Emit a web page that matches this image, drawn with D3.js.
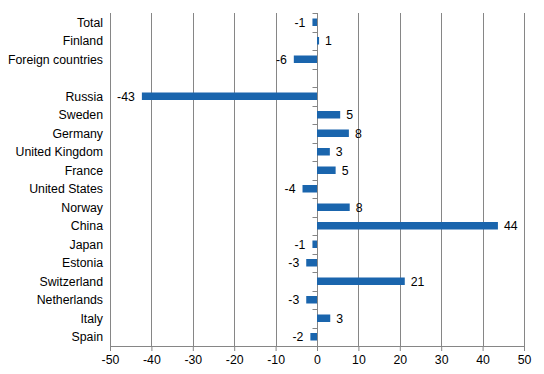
<!DOCTYPE html>
<html>
<head>
<meta charset="utf-8">
<script src="https://cdn.jsdelivr.net/npm/d3@7"></script>
<style>
  body { margin: 0; background: #fff; }
  text { font-family: "Liberation Sans", Arial, sans-serif; font-size: 12.3px; fill: #000; }
</style>
</head>
<body>
<script>
const w = 544;
const h = 374;

// rows top to bottom; "" is the empty spacer row
const categories = ["Total", "Finland", "Foreign countries", "", "Russia", "Sweden", "Germany",
  "United Kingdom", "France", "United States", "Norway", "China", "Japan", "Estonia",
  "Switzerland", "Netherlands", "Italy", "Spain"];
const values = [-1.1, 0.5, -5.6, null, -42.3, 5.6, 7.7, 3.1, 4.5, -3.5, 7.9, 43.7, -1.1, -2.6,
  21.2, -2.6, 3.2, -1.6];
const labels = ["-1", "1", "-6", "", "-43", "5", "8", "3", "5", "-4", "8", "44", "-1", "-3",
  "21", "-3", "3", "-2"];
const xTicks = [-50, -40, -30, -20, -10, 0, 10, 20, 30, 40, 50];

const margin = {top: 13, right: 20, bottom: 28, left: 110};

const svg = d3.select("body").append("svg")
  .attr("width", w)
  .attr("height", h);

const x = d3.scaleLinear().domain([-50, 50]).range([margin.left, w - margin.right]);
const y = d3.scaleBand().domain(d3.range(categories.length))
  .range([margin.top, h - margin.bottom]);

// vertical grid lines
svg.append("g").selectAll("line")
  .data(xTicks.filter(d => d !== 0))
  .enter().append("line")
  .attr("x1", d => Math.round(x(d)) + 0.5)
  .attr("x2", d => Math.round(x(d)) + 0.5)
  .attr("y1", margin.top)
  .attr("y2", h - margin.bottom)
  .attr("stroke", "#868686");

// bottom axis (plain hyphen for negatives, like the original)
const xAxis = svg.append("g")
  .attr("transform", `translate(0,${h - margin.bottom})`)
  .call(d3.axisBottom(x).tickValues(xTicks).tickSize(5).tickPadding(4).tickFormat(d => String(d)));
xAxis.select(".domain").attr("stroke", "#868686");
xAxis.selectAll(".tick line").attr("stroke", "#868686");
xAxis.selectAll("text").style("font-size", "12.3px").attr("fill", "#000");

// zero line with category ticks
const zero = svg.append("g")
  .attr("transform", `translate(${Math.round(x(0)) + 0.5},0)`);
zero.append("line")
  .attr("y1", margin.top).attr("y2", h - margin.bottom)
  .attr("stroke", "#868686");
zero.selectAll(".ctick")
  .data(d3.range(categories.length + 1))
  .enter().append("line")
  .attr("x1", -5).attr("x2", 0)
  .attr("y1", d => Math.round(margin.top + d * y.step()) + 0.5)
  .attr("y2", d => Math.round(margin.top + d * y.step()) + 0.5)
  .attr("stroke", "#868686");

// category labels
svg.append("g").selectAll("text")
  .data(categories)
  .enter().append("text")
  .attr("x", margin.left - 7)
  .attr("y", (d, i) => y(i) + y.bandwidth() / 2)
  .attr("dy", "0.35em")
  .attr("text-anchor", "end")
  .text(d => d);

const barH = 7.5;
const rows = values.map((v, i) => ({v: v, i: i, label: labels[i]})).filter(d => d.v !== null);

// bars
svg.append("g").selectAll("rect")
  .data(rows)
  .enter().append("rect")
  .attr("x", d => x(Math.min(0, d.v)))
  .attr("width", d => Math.abs(x(d.v) - x(0)))
  .attr("y", d => y(d.i) + y.bandwidth() / 2 - barH / 2)
  .attr("height", barH)
  .attr("fill", "#1a65ad");

// value labels
svg.append("g").selectAll("text")
  .data(rows)
  .enter().append("text")
  .attr("x", d => d.v < 0 ? x(d.v) - 7 : x(d.v) + 6)
  .attr("y", d => y(d.i) + y.bandwidth() / 2)
  .attr("dy", "0.35em")
  .attr("text-anchor", d => d.v < 0 ? "end" : "start")
  .text(d => d.label);
</script>
</body>
</html>
